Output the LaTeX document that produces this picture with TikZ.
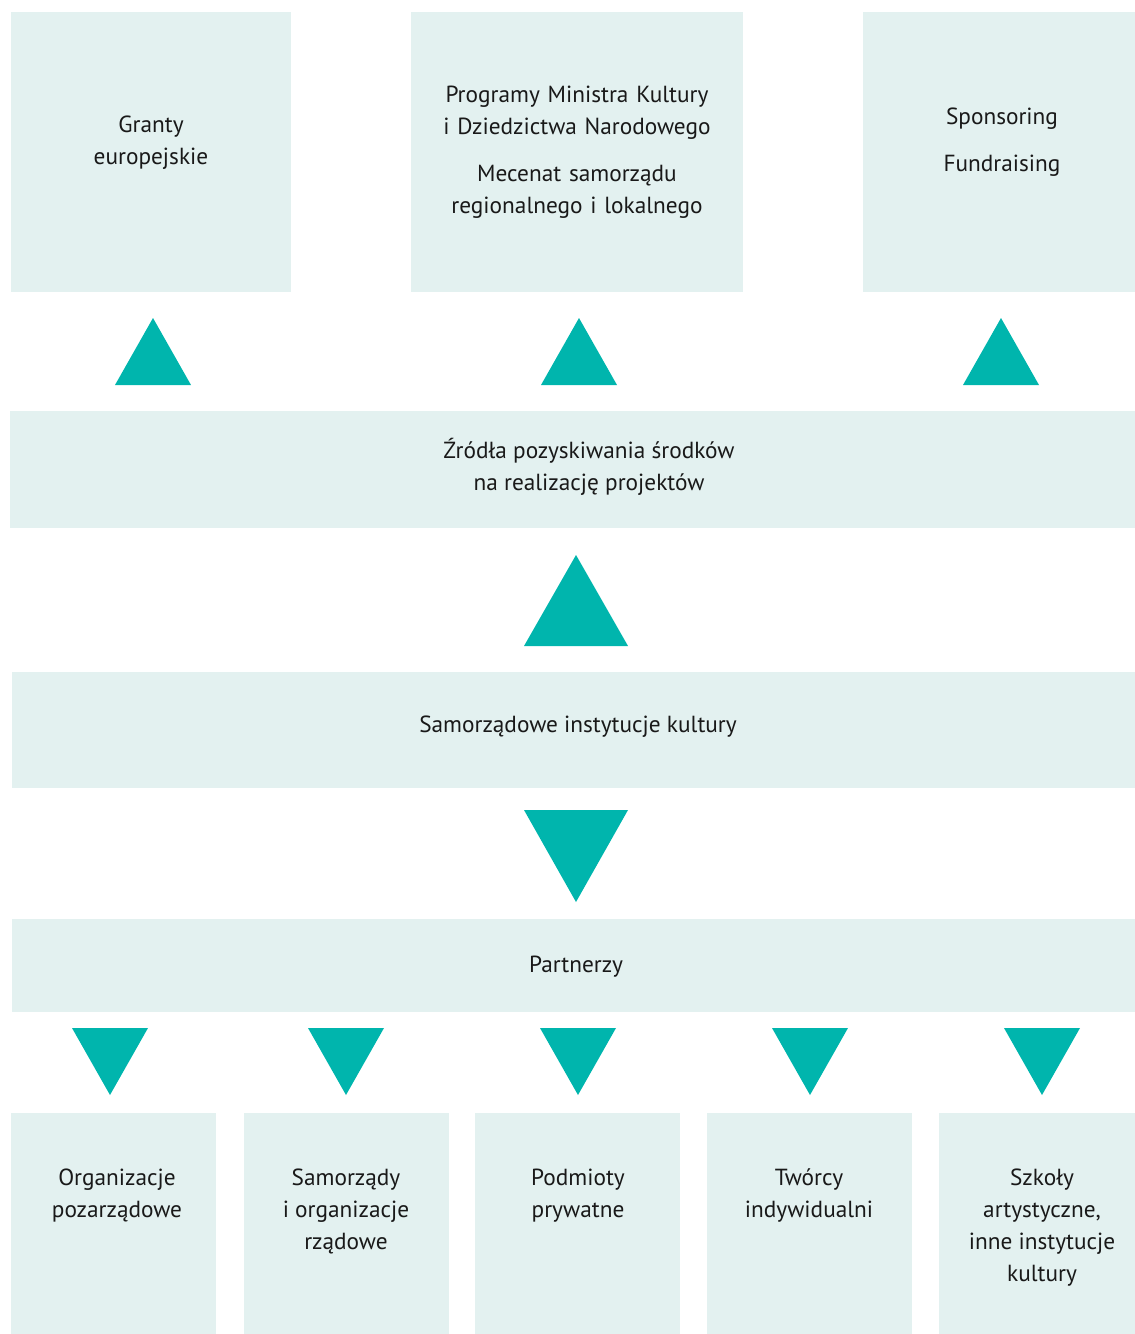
\documentclass[tikz,border=0pt]{standalone}
\usepackage{fontspec}
\setmainfont{PT Sans}
\begin{document}
\definecolor{boxfill}{HTML}{E3F1F0}
\definecolor{arrowfill}{HTML}{00B5AD}
\begin{tikzpicture}[x=1pt,y=-1pt,
  box/.style={fill=boxfill,draw=none,inner sep=0pt,anchor=north west},
  txt/.style={align=center,font=\fontsize{23.3}{32}\selectfont,inner sep=0pt,text=black!90},
  uptri/.style={fill=arrowfill},
  downtri/.style={fill=arrowfill}]
\useasboundingbox (0,0) rectangle (1135,1334);

% top row: sources of funding
\node[box,minimum width=280,minimum height=280] (g) at (11,12) {};
\node[box,minimum width=332,minimum height=280] (p) at (411,12) {};
\node[box,minimum width=272,minimum height=280] (s) at (863,12) {};
\node[txt] (gt) at (151,143) {Granty\\europejskie};
\node[txt,text width=320] (pt1) at (577,113) {Programy Ministra Kultury\\i Dziedzictwa Narodowego};
\node[txt,text width=320] (pt2) at (577,192) {Mecenat samorządu\\regionalnego i lokalnego};
\node[txt] (st1) at (1002,119) {Sponsoring};
\node[txt] (st2) at (1002,166) {Fundraising};

\fill[uptri] (115,385) -- (153,318) -- (191,385) -- cycle;
\fill[uptri] (541,385) -- (579,318) -- (617,385) -- cycle;
\fill[uptri] (963,385) -- (1001,318) -- (1039,385) -- cycle;

% middle bands
\node[box,minimum width=1125,minimum height=117] (z) at (10,411) {};
\node[txt] (zt) at (589,467) {Źródła pozyskiwania środków\\na realizację projektów};

\fill[uptri] (524,646) -- (576,555) -- (628,646) -- cycle;

\node[box,minimum width=1123,minimum height=116] (si) at (12,672) {};
\node[txt] (sit) at (578,727) {Samorządowe instytucje kultury};

\fill[downtri] (524,810) -- (628,810) -- (576,902) -- cycle;

\node[box,minimum width=1123,minimum height=93] (pa) at (12,919) {};
\node[txt] (pat) at (576,967) {Partnerzy};

% partners
\foreach \cx in {110,346,578,810,1042}
  \fill[downtri] (\cx-38,1028) -- (\cx+38,1028) -- (\cx,1095) -- cycle;

\node[box,minimum width=205,minimum height=221] (b1) at (11,1113) {};
\node[box,minimum width=205,minimum height=221] (b2) at (244,1113) {};
\node[box,minimum width=205,minimum height=221] (b3) at (475,1113) {};
\node[box,minimum width=205,minimum height=221] (b4) at (707,1113) {};
\node[box,minimum width=196,minimum height=221] (b5) at (939,1113) {};

\node[txt,anchor=north] (b1t) at (117,1169) {Organizacje\\pozarządowe};
\node[txt,anchor=north] (b2t) at (346,1169) {Samorządy\\i organizacje\\rządowe};
\node[txt,anchor=north] (b3t) at (578,1169) {Podmioty\\prywatne};
\node[txt,anchor=north] (b4t) at (809,1169) {Twórcy\\indywidualni};
\node[txt,anchor=north] (b5t) at (1042,1169) {Szkoły\\artystyczne,\\inne instytucje\\kultury};
\end{tikzpicture}
\end{document}
